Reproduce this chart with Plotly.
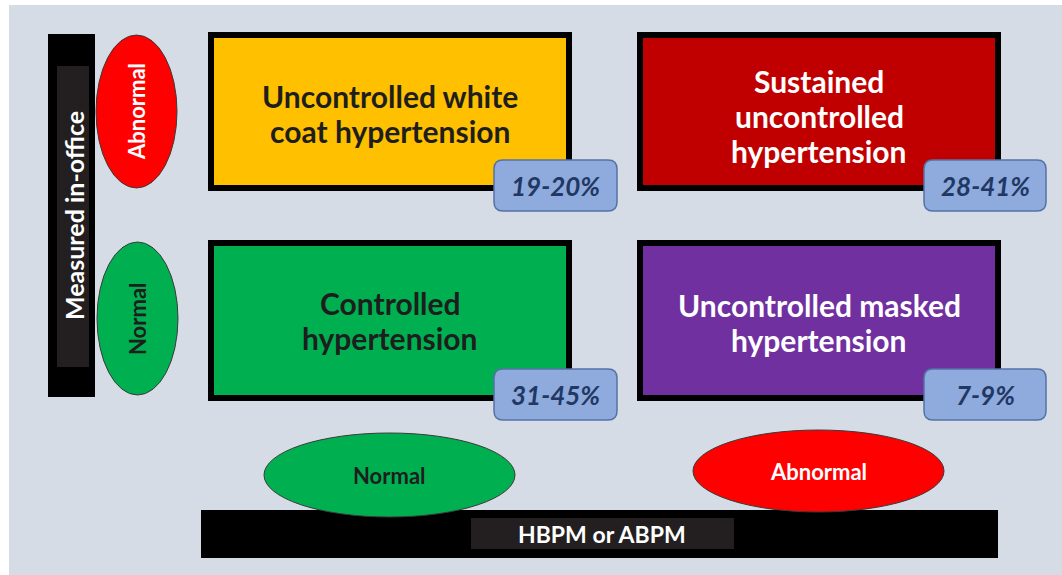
import plotly.graph_objects as go

# ---- data ----
quadrant_labels = [
    "Uncontrolled white<br>coat hypertension",
    "Sustained<br>uncontrolled<br>hypertension",
    "Controlled<br>hypertension",
    "Uncontrolled masked<br>hypertension",
]
quadrant_percent = ["19-20%", "28-41%", "31-45%", "7-9%"]
office_labels = ["Abnormal", "Normal"]
ambulatory_labels = ["Normal", "Abnormal"]
axis_labels = ["Measured in-office", "HBPM or ABPM"]

# ---- styles ----
quad_fill = ["#FFC000", "#C00000", "#00B050", "#7030A0"]
quad_text = ["#1E1E1E", "#FFFFFF", "#1E1E1E", "#FFFFFF"]
office_fill = ["#FF0000", "#00B050"]
office_text = ["#FFFFFF", "#1E1E1E"]
amb_fill = ["#00B050", "#FF0000"]
amb_text = ["#1E1E1E", "#FFFFFF"]
FONT = "Lato"

W, H = 1062, 575
quad_x = [(208, 572), (637, 1001), (208, 572), (637, 1001)]
quad_y = [(32, 191), (32, 191), (240, 401), (240, 401)]
quad_text_y = [113, 116, 320.5, 322.5]
LINE_H = 35
badge_x = [(493, 618), (923, 1047), (493, 618), (923, 1047)]
badge_y = [(159, 212), (159, 212), (368, 421), (368, 421)]
office_ell = [(96, 177, 35, 188), (97, 178, 242, 395)]
amb_ell = [(264, 515, 433, 517), (693, 944, 430, 512)]

shapes = []
annotations = []

# background panel
shapes.append(dict(type="rect", x0=9, x1=W + 2, y0=5, y1=H + 2, fillcolor="#D6DCE5",
                   line=dict(width=0), layer="below"))

# left axis bar
shapes.append(dict(type="rect", x0=48, x1=95, y0=34, y1=397, fillcolor="#000000",
                   line=dict(width=0)))
shapes.append(dict(type="rect", x0=57, x1=89, y0=66, y1=367, fillcolor="#231F20",
                   line=dict(width=0)))
annotations.append(dict(x=74, y=216, text=axis_labels[0], textangle=-90, showarrow=False,
                        font=dict(family=FONT, size=25, color="white", weight="bold")))

# bottom axis bar
shapes.append(dict(type="rect", x0=201, x1=998, y0=510, y1=558, fillcolor="#000000",
                   line=dict(width=0)))
shapes.append(dict(type="rect", x0=471, x1=734, y0=518, y1=549, fillcolor="#231F20",
                   line=dict(width=0)))
annotations.append(dict(x=602, y=534, text=axis_labels[1], showarrow=False,
                        font=dict(family=FONT, size=23, color="white", weight="bold")))

# office ellipses
for (x0, x1, y0, y1), lab, fc, tc in zip(office_ell, office_labels, office_fill, office_text):
    shapes.append(dict(type="circle", x0=x0, x1=x1, y0=y0, y1=y1, fillcolor=fc,
                       line=dict(color="#3A3A3A", width=1)))
    annotations.append(dict(x=(x0 + x1) / 2, y=(y0 + y1) / 2, text=lab, textangle=-90,
                            showarrow=False,
                            font=dict(family=FONT, size=22, color=tc, weight="bold")))

# ambulatory ellipses
for (x0, x1, y0, y1), lab, fc, tc in zip(amb_ell, ambulatory_labels, amb_fill, amb_text):
    shapes.append(dict(type="circle", x0=x0, x1=x1, y0=y0, y1=y1, fillcolor=fc,
                       line=dict(color="#3A3A3A", width=1)))
    annotations.append(dict(x=(x0 + x1) / 2, y=(y0 + y1) / 2, text=lab, showarrow=False,
                            font=dict(family=FONT, size=22, color=tc, weight="bold")))

# quadrant boxes
for i in range(4):
    x0, x1 = quad_x[i]
    y0, y1 = quad_y[i]
    shapes.append(dict(type="rect", x0=x0 + 3, x1=x1 - 3, y0=y0 + 3, y1=y1 - 3,
                       fillcolor=quad_fill[i], line=dict(color="#000000", width=6)))
    lines = quadrant_labels[i].split("<br>")
    n = len(lines)
    for k, ln in enumerate(lines):
        yk = quad_text_y[i] + (k - (n - 1) / 2) * LINE_H
        annotations.append(dict(x=(x0 + x1) / 2, y=yk, text=ln, showarrow=False,
                                font=dict(family=FONT, size=30, color=quad_text[i],
                                          weight="bold")))


def rounded(x0, y0, x1, y1, r):
    return (f"M {x0 + r},{y0} L {x1 - r},{y0} Q {x1},{y0} {x1},{y0 + r} "
            f"L {x1},{y1 - r} Q {x1},{y1} {x1 - r},{y1} L {x0 + r},{y1} "
            f"Q {x0},{y1} {x0},{y1 - r} L {x0},{y0 + r} Q {x0},{y0} {x0 + r},{y0} Z")


# percentage badges
for i in range(4):
    x0, x1 = badge_x[i]
    y0, y1 = badge_y[i]
    shapes.append(dict(type="path", path=rounded(x0 + 1, y0 + 1, x1 - 1, y1 - 1, 9),
                       fillcolor="#8FAADC", line=dict(color="#5572A6", width=1.5)))
    annotations.append(dict(x=(x0 + x1) / 2, y=(y0 + y1) / 2, text=quadrant_percent[i],
                            showarrow=False,
                            font=dict(family=FONT, size=26, color="#1F3864", weight="bold",
                                      style="italic")))

fig = go.Figure()
fig.update_layout(
    width=W, height=H,
    margin=dict(l=0, r=0, t=0, b=0),
    paper_bgcolor="white", plot_bgcolor="white",
    xaxis=dict(range=[0, W], visible=False, fixedrange=True),
    yaxis=dict(range=[H, 0], visible=False, fixedrange=True),
    shapes=shapes, annotations=annotations, showlegend=False,
)
fig.write_html(
    "out.html",
    config={"displayModeBar": False},
    post_script="document.body.style.margin='0';"
                "document.documentElement.style.overflow='hidden';"
                "document.body.style.overflow='hidden';",
)
